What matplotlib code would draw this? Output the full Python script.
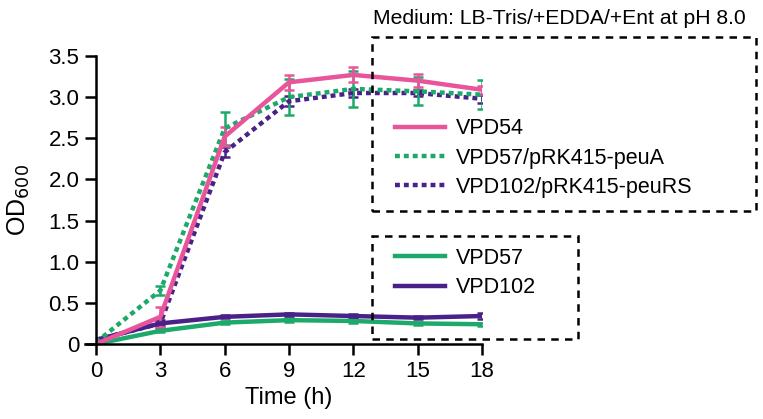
import matplotlib
matplotlib.use('Agg')
import matplotlib.pyplot as plt
from matplotlib.patches import Rectangle
from matplotlib.lines import Line2D

plt.rcParams['font.family'] = ['Liberation Sans', 'DejaVu Sans']

# Donnees
time_h = [0, 3, 6, 9, 12, 15, 18]

vpd54 = [0.0, 0.33, 2.52, 3.18, 3.27, 3.20, 3.09]
vpd54_err = [0.0, 0.12, 0.12, 0.09, 0.09, 0.08, 0.05]

vpd57_peuA = [0.02, 0.65, 2.62, 3.00, 3.10, 3.07, 3.03]
vpd57_peuA_err = [0.0, 0.06, 0.20, 0.22, 0.22, 0.17, 0.18]

vpd102_peuRS = [0.05, 0.25, 2.33, 2.95, 3.05, 3.05, 2.98]
vpd102_peuRS_err = [0.0, 0.04, 0.06, 0.06, 0.05, 0.04, 0.05]

vpd57 = [0.0, 0.16, 0.26, 0.29, 0.28, 0.25, 0.24]
vpd57_err = [0.0, 0.02, 0.02, 0.02, 0.02, 0.02, 0.02]

vpd102 = [0.05, 0.25, 0.33, 0.36, 0.34, 0.32, 0.34]
vpd102_err = [0.0, 0.02, 0.02, 0.02, 0.02, 0.02, 0.04]

x_ticks = [0, 3, 6, 9, 12, 15, 18]
y_ticks = [0, 0.5, 1.0, 1.5, 2.0, 2.5, 3.0, 3.5]
y_ticklabels = ['0', '0.5', '1.0', '1.5', '2.0', '2.5', '3.0', '3.5']

PINK = '#E8559B'
GREEN = '#1DA96A'
PURPLE = '#4A2189'
DOT = (0, (1.1, 0.9))

fig = plt.figure(figsize=(7.63, 4.19), dpi=100)
ax = fig.add_axes([0.1258, 0.179, 0.5059, 0.6874])

ebar = dict(elinewidth=1.8, capsize=3.5, capthick=1.8)
ax.errorbar(time_h, vpd57, yerr=vpd57_err, color=GREEN, lw=3.2, **ebar)
ax.errorbar(time_h, vpd102, yerr=vpd102_err, color=PURPLE, lw=3.2, **ebar)
ax.errorbar(time_h, vpd102_peuRS, yerr=vpd102_peuRS_err, color=PURPLE, lw=3.2, ls=DOT, **ebar)
ax.errorbar(time_h, vpd57_peuA, yerr=vpd57_peuA_err, color=GREEN, lw=3.2, ls=DOT, **ebar)
ax.errorbar(time_h, vpd54, yerr=vpd54_err, color=PINK, lw=3.2, **ebar)

ax.set_xlim(0, 18)
ax.set_ylim(0, 3.5)
ax.set_xticks(x_ticks)
ax.set_yticks(y_ticks)
ax.set_yticklabels(y_ticklabels)
ax.tick_params(direction='out', length=8, width=1.8, labelsize=16, pad=4)
for side in ['top', 'right']:
    ax.spines[side].set_visible(False)
for side in ['left', 'bottom']:
    ax.spines[side].set_linewidth(1.8)
ax.spines['bottom'].set_bounds(-0.5, 18)
ax.set_xlabel('Time (h)', fontsize=17, labelpad=4)
ax.set_ylabel('OD$_{600}$', fontsize=18, labelpad=12)

# Legendes
leg_kw = dict(loc='center left', frameon=False, fontsize=15.5, handlelength=2.3,
              handletextpad=0.55, labelspacing=0.38, borderpad=0, borderaxespad=0)
h1 = [Line2D([], [], color=PINK, lw=3.2),
      Line2D([], [], color=GREEN, lw=3.2, ls=DOT),
      Line2D([], [], color=PURPLE, lw=3.2, ls=DOT)]
fig.legend(h1, ['VPD54', 'VPD57/pRK415-peuA', 'VPD102/pRK415-peuRS'],
           bbox_to_anchor=(395 / 763, 1 - 158 / 419), **leg_kw)
h2 = [Line2D([], [], color=GREEN, lw=3.2), Line2D([], [], color=PURPLE, lw=3.2)]
fig.legend(h2, ['VPD57', 'VPD102'],
           bbox_to_anchor=(395 / 763, 1 - 273 / 419), **leg_kw)

W, H = 763, 419
for (x0, y0, x1, y1) in [(372, 37, 756, 211), (372, 236, 578, 339)]:
    fig.patches.append(Rectangle((x0 / W, 1 - y1 / H), (x1 - x0) / W, (y1 - y0) / H,
                                 transform=fig.transFigure, fill=False, ec='black',
                                 lw=1.8, ls=(0, (3, 2.5))))

fig.text(559 / W, 1 - 18 / H, 'Medium: LB-Tris/+EDDA/+Ent at pH 8.0', fontsize=15.2,
         ha='center', va='center')

fig.savefig('out.png', dpi=100)
